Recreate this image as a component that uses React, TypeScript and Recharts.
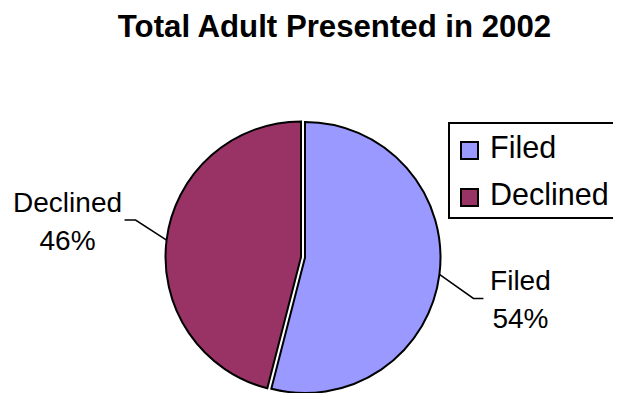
import React from 'react'
import { PieChart, Pie, Cell, Legend } from 'recharts'

const categories = ['Filed', 'Declined']
const values = [54, 46]
const colors = ['#9999FF', '#993366']
const title = 'Total Adult Presented in 2002'

const data = categories.map((name, i) => ({ name, value: values[i] }))
const FONT = '"Liberation Sans", Arial, sans-serif'
const RADIAN = Math.PI / 180

const makeLabel = (visible: number) => (p: any) => {
  if (p.index !== visible) return null
  const sx = p.cx + p.outerRadius * Math.cos(-p.midAngle * RADIAN)
  const sy = p.cy + p.outerRadius * Math.sin(-p.midAngle * RADIAN)
  const right = Math.cos(-p.midAngle * RADIAN) >= 0
  const ex = sx + (right ? 34 : -31)
  const ey = sy + (right ? 24 : -20)
  const hx = ex + (right ? 10 : -11)
  const tx = hx + (right ? 37 : -57)
  return (
    <g>
      <polyline points={`${sx},${sy} ${ex},${ey} ${hx},${ey}`} fill="none" stroke="#000" strokeWidth={1.5} />
      <text x={tx} y={ey - 8} textAnchor="middle" fontFamily={FONT} fontSize={28} fill="#000">
        {p.name}
      </text>
      <text x={tx} y={ey + 30} textAnchor="middle" fontFamily={FONT} fontSize={28} fill="#000">
        {Math.round(p.percent * 100)}%
      </text>
    </g>
  )
}

const LegendBox = () => (
  <svg width={180} height={100} style={{ display: 'block' }}>
    <rect x={1} y={1} width={190} height={95} fill="#fff" stroke="#000" strokeWidth={2} />
    {categories.map((c, i) => (
      <g key={c}>
        <rect x={13} y={20 + i * 47} width={17} height={17} fill={colors[i]} stroke="#000" strokeWidth={2} />
        <text x={42} y={36 + i * 47} fontFamily={FONT} fontSize={30.5} fill="#000">
          {c}
        </text>
      </g>
    ))}
  </svg>
)

export default function App() {
  return (
    <div style={{ position: 'relative', margin: '-8px 0 0 -8px', width: 621, height: 393, background: '#fff', overflow: 'hidden' }}>
      <svg width={621} height={50} style={{ position: 'absolute', left: 0, top: 0 }}>
        <text x={334.5} y={37} textAnchor="middle" fontFamily={FONT} fontWeight="bold" fontSize={31.2} fill="#000">
          {title}
        </text>
      </svg>
      <PieChart width={621} height={393} margin={{ top: 0, right: 0, bottom: 0, left: 0 }}>
        <Pie
          data={data}
          dataKey="value"
          nameKey="name"
          cx={305}
          cy={257.5}
          outerRadius={135.5}
          startAngle={90}
          endAngle={-270}
          stroke="#000"
          strokeWidth={2}
          labelLine={false}
          label={makeLabel(0)}
          isAnimationActive={false}
        >
          {data.map((d, i) => (
            <Cell key={d.name} fill={i === 0 ? colors[0] : 'none'} stroke={i === 0 ? '#000' : 'none'} />
          ))}
        </Pie>
        <Pie
          data={data}
          dataKey="value"
          nameKey="name"
          cx={301}
          cy={257}
          outerRadius={135.5}
          startAngle={90}
          endAngle={-270}
          stroke="#000"
          strokeWidth={2}
          labelLine={false}
          label={makeLabel(1)}
          isAnimationActive={false}
        >
          {data.map((d, i) => (
            <Cell key={d.name} fill={i === 1 ? colors[1] : 'none'} stroke={i === 1 ? '#000' : 'none'} />
          ))}
        </Pie>
        <Legend content={<LegendBox />} wrapperStyle={{ position: 'absolute', left: 448, top: 122, width: 180, height: 100 }} />
      </PieChart>
    </div>
  )
}
